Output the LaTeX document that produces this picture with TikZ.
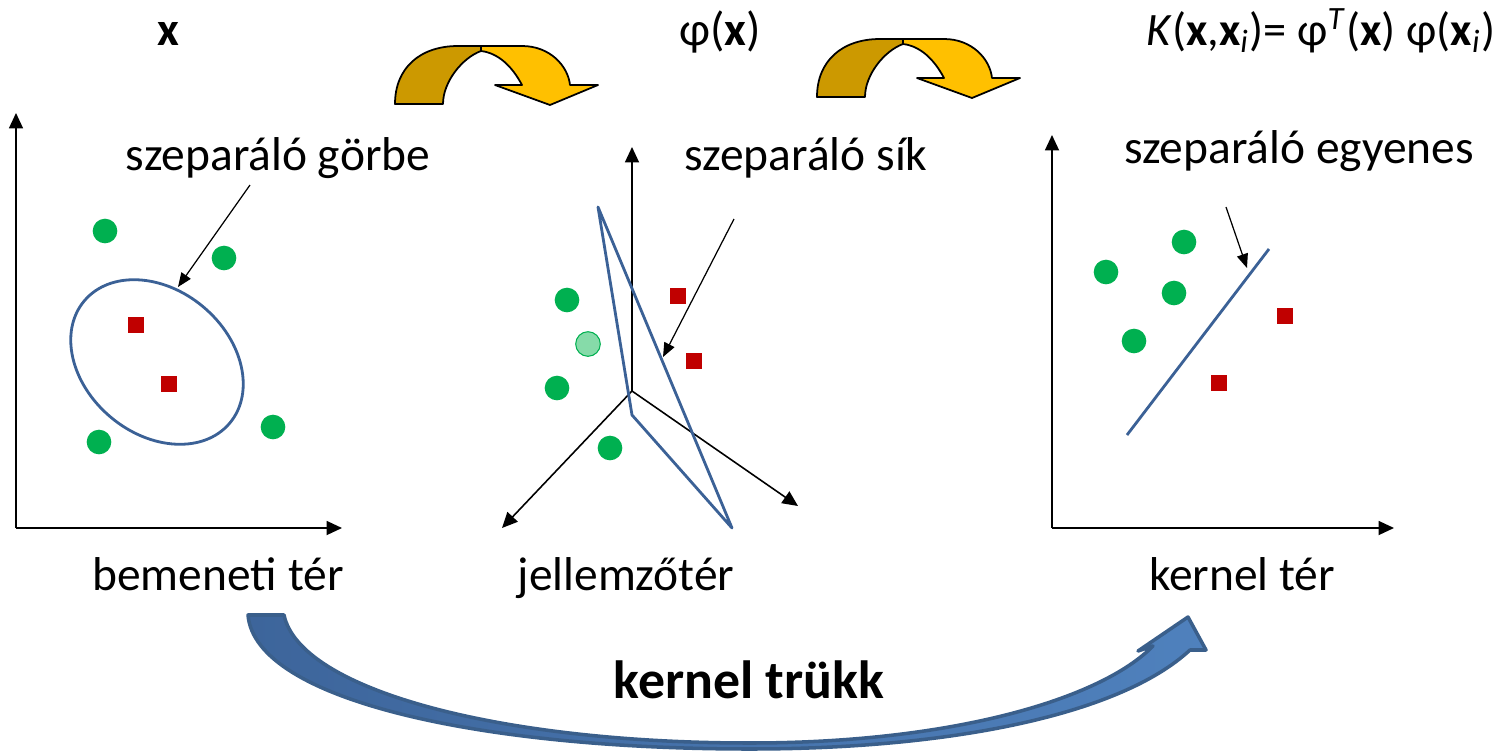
\documentclass[tikz,border=0pt]{standalone}
\usepackage{fontspec}
\setmainfont{Carlito}
\usetikzlibrary{arrows.meta}

\definecolor{pontzold}{HTML}{00B050}
\definecolor{halvanyzold}{HTML}{86DBA9}
\definecolor{pontpiros}{HTML}{C00000}
\definecolor{vonalkek}{HTML}{3B6196}
\definecolor{sotetarany}{HTML}{CC9900}
\definecolor{arany}{HTML}{FFC000}
\definecolor{nyilkek}{HTML}{3A5F8B}
\definecolor{nyilbal}{HTML}{3D659B}
\definecolor{nyiljobb}{HTML}{4F81BD}

\tikzset{
  felirat/.style={font=\fontsize{13.5}{16}\selectfont, inner sep=0pt, anchor=base},
  pont/.style={circle, fill=pontzold, minimum size=7pt, inner sep=0pt},
  negyzet/.style={rectangle, fill=pontpiros, minimum size=4.5pt, inner sep=0pt},
  tengely/.style={line width=0.45pt, -{Triangle[length=4.4pt,width=4pt]}},
  mutato/.style={line width=0.35pt, -{Triangle[length=4pt,width=3.2pt]}},
  hatar/.style={draw=vonalkek, line width=0.8pt, line join=round},
}

\begin{document}
\begin{tikzpicture}[x=0.01cm, y=-0.01cm]
\useasboundingbox (0,0) rectangle (1499,751);

% titles above the three spaces
\node[felirat] (tx) at (168,45) {\textbf{x}};
\node[felirat] (tphi) at (720,45) {φ(\textbf{x})};
\node[felirat, font=\fontsize{13.2}{15}\selectfont, anchor=base east] (tK) at (1496,45) {\textit{K}(\textbf{x},\textbf{x}\textsubscript{\textit{i}})= φ\textsuperscript{\textit{T}}(\textbf{x}) φ(\textbf{x}\textsubscript{\textit{i}})};

% folded arrows between the titles
\foreach \dx/\dy in {0/0, 422/-7} {
  \begin{scope}[shift={(\dx,\dy)}]
    \filldraw[fill=sotetarany, line width=0.5pt, line join=round]
      (395,104) .. controls (395,68) and (420,46) .. (458,46) -- (481,46) -- (481,51)
      .. controls (462,58) and (443,82) .. (443,104) -- cycle;
    \filldraw[fill=arany, line width=0.5pt, line join=round]
      (481,46) -- (522,46) .. controls (550,46) and (568,66) .. (570,85) -- (598,85)
      -- (550,105) -- (495,85) -- (522,85) .. controls (512,66) and (498,53) .. (481,51) -- cycle;
  \end{scope}
}

% input space
\coordinate (O1) at (16,528);
\coordinate (O1y) at (16,113);
\coordinate (O1x) at (342,528);
\draw[tengely] (O1) -- (O1y);
\draw[tengely] (O1) -- (O1x);
\draw[hatar, rotate around={-40:(157,362)}] (157,362) ellipse (95 and 72);
\foreach \n/\x/\y in {1/105/231, 2/224/258, 3/99/442, 4/273/427}
  \node[pont] (bz\n) at (\x,\y) {};
\foreach \n/\x/\y in {1/136/325, 2/169/384}
  \node[negyzet] (bp\n) at (\x,\y) {};
\node[felirat] (gorbe) at (278,170) {szeparáló görbe};
\coordinate (gorbeVeg) at (250,185);
\coordinate (gorbeHegy) at (178,287);
\draw[mutato] (gorbeVeg) -- (gorbeHegy);
\node[felirat] (bemeneti) at (218,590) {bemeneti tér};

% feature space
\coordinate (O2) at (632,391);
\coordinate (O2z) at (632,147);
\coordinate (O2x) at (502,528);
\coordinate (O2y) at (798,506);
\draw[tengely] (O2) -- (O2z);
\draw[tengely] (O2) -- (O2x);
\draw[tengely] (O2) -- (O2y);
\draw[hatar] (598,207) -- (632,415) -- (732,528) -- cycle;
\foreach \n/\x/\y in {1/567/300, 2/557/388, 3/610/448}
  \node[pont] (jz\n) at (\x,\y) {};
\node[pont, fill=halvanyzold, draw=pontzold, line width=0.3pt] (jz4) at (588,344) {};
\foreach \n/\x/\y in {1/678/296, 2/694/361}
  \node[negyzet] (jp\n) at (\x,\y) {};
\node[felirat] (sik) at (806,170) {szeparáló sík};
\coordinate (sikVeg) at (734,219);
\coordinate (sikHegy) at (663,357);
\draw[mutato] (sikVeg) -- (sikHegy);
\node[felirat] (jellemzo) at (626,590) {jellemzőtér};

% kernel space
\coordinate (O3) at (1052,528);
\coordinate (O3y) at (1052,135);
\coordinate (O3x) at (1394,528);
\draw[tengely] (O3) -- (O3y);
\draw[tengely] (O3) -- (O3x);
\draw[hatar] (1127,435) -- (1269,249);
\foreach \n/\x/\y in {1/1184/242, 2/1106/272, 3/1174/293, 4/1134/341}
  \node[pont] (kz\n) at (\x,\y) {};
\foreach \n/\x/\y in {1/1285/316, 2/1219/383}
  \node[negyzet] (kp\n) at (\x,\y) {};
\node[felirat] (egyenes) at (1299,163) {szeparáló egyenes};
\coordinate (egyenesVeg) at (1226,207);
\coordinate (egyenesHegy) at (1247,268);
\draw[mutato] (egyenesVeg) -- (egyenesHegy);
\node[felirat] (kernelter) at (1242,590) {kernel tér};

% the big arrow underneath
\path[draw=nyilkek, line width=1pt, line join=round, left color=nyilbal, right color=nyiljobb]
  (248,615) .. controls (255,700) and (480,749) .. (750,749)
  .. controls (950,749) and (1120,715) .. (1190,650)
  -- (1206,650) -- (1188,617) -- (1138,651) -- (1153,646)
  .. controls (1100,700) and (950,743) .. (750,743)
  .. controls (500,743) and (300,690) .. (284,615) -- cycle;
\node[felirat, font=\fontsize{15.3}{18}\selectfont] (trukk) at (749,698) {\textbf{kernel trükk}};
\end{tikzpicture}
\end{document}
